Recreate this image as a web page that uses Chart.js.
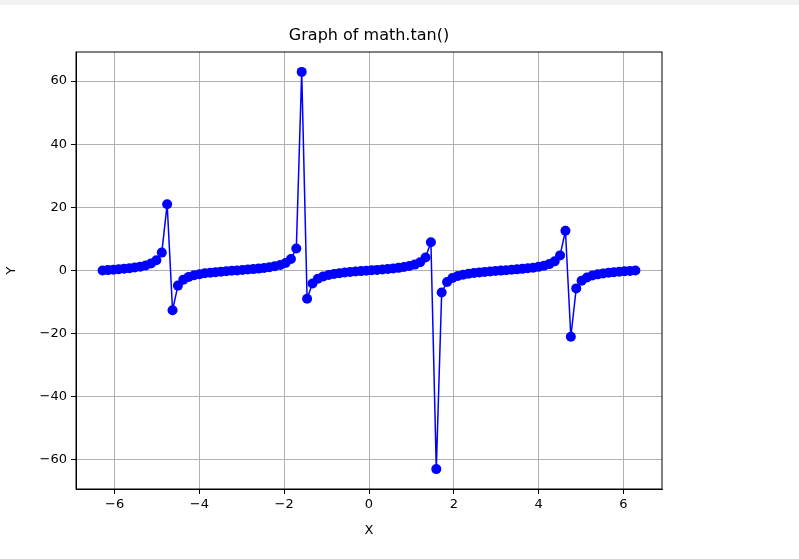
<!DOCTYPE html>
<html>
<head>
<meta charset="utf-8">
<script src="https://cdn.jsdelivr.net/npm/chart.js@4/dist/chart.umd.min.js"></script>
<style>
  html, body { margin: 0; padding: 0; background: #fff; }
  #strip { height: 5px; background: #f2f2f2; }
</style>
</head>
<body>
<div id="strip"></div>
<canvas id="tanChart" width="799" height="554"></canvas>
<script>
// x samples and tan(x) values
var xValues = [
    -6.283, -6.156, -6.029, -5.902, -5.776, -5.648, -5.522, -5.395, -5.268, -5.141,
    -5.014, -4.887, -4.760, -4.633, -4.506, -4.379, -4.252, -4.125, -3.998, -3.871,
    -3.745, -3.618, -3.491, -3.364, -3.237, -3.110, -2.983, -2.856, -2.729, -2.602,
    -2.475, -2.348, -2.221, -2.094, -1.968, -1.841, -1.714, -1.587, -1.460, -1.333,
    -1.206, -1.079, -0.952, -0.825, -0.698, -0.571, -0.444, -0.317, -0.190, -0.063,
    0.063, 0.190, 0.317, 0.444, 0.571, 0.698, 0.825, 0.952, 1.079, 1.206,
    1.333, 1.460, 1.587, 1.714, 1.841, 1.968, 2.094, 2.221, 2.348, 2.475,
    2.602, 2.729, 2.856, 2.983, 3.110, 3.237, 3.364, 3.491, 3.618, 3.745,
    3.871, 3.998, 4.125, 4.252, 4.379, 4.506, 4.633, 4.760, 4.887, 5.014,
    5.141, 5.268, 5.395, 5.522, 5.648, 5.776, 5.902, 6.029, 6.156, 6.283
];
var yValues = [
    0, 0.128, 0.260, 0.400, 0.557, 0.737, 0.952, 1.223, 1.61, 2.19,
    3.22, 5.67, 21.0, -12.6, -4.78, -2.89, -2.02, -1.50, -1.154, -0.894,
    -0.691, -0.516, -0.364, -0.226, -0.096, 0.032, 0.160, 0.294, 0.437, 0.599,
    0.787, 1.017, 1.318, 1.732, 2.39, 3.62, 6.95, 62.9, -8.97, -4.12,
    -2.62, -1.865, -1.405, -1.081, -0.839, -0.642, -0.476, -0.329, -0.193, -0.064,
    0.064, 0.193, 0.329, 0.476, 0.642, 0.839, 1.081, 1.405, 1.865, 2.62,
    4.12, 8.97, -62.9, -6.95, -3.62, -2.39, -1.732, -1.318, -1.017, -0.787,
    -0.599, -0.437, -0.294, -0.160, -0.032, 0.096, 0.226, 0.364, 0.516, 0.691,
    0.894, 1.154, 1.50, 2.02, 2.89, 4.78, 12.6, -21.0, -5.67, -3.22,
    -2.19, -1.61, -1.223, -0.952, -0.737, -0.557, -0.400, -0.260, -0.128, 0
];
var xTicks = [-6, -4, -2, 0, 2, 4, 6];
var yTicks = [-60, -40, -20, 0, 20, 40, 60];

var points = xValues.map(function(x, i) {
    return {x: x, y: yValues[i]};
});

function minus(v) {
    return String(v).replace('-', '\u2212');
}

// title above the plot and the closed frame around it
var framePlugin = {
    id: 'frame',
    afterDraw: function(chart) {
        var ctx = chart.ctx;
        var area = chart.chartArea;
        ctx.save();
        ctx.strokeStyle = '#000';
        ctx.lineWidth = 1;
        ctx.strokeRect(area.left, area.top, area.right - area.left, area.bottom - area.top);
        ctx.fillStyle = '#000';
        ctx.font = '16px "DejaVu Sans"';
        ctx.textAlign = 'center';
        ctx.textBaseline = 'bottom';
        ctx.fillText('Graph of math.tan()', (area.left + area.right) / 2, area.top - 8);
        ctx.restore();
    }
};

var fontSpec = {family: '"DejaVu Sans"', size: 13};

new Chart(document.getElementById('tanChart').getContext('2d'), {
    type: 'scatter',
    data: {
        datasets: [{
            data: points,
            showLine: true,
            borderColor: '#0000ff',
            backgroundColor: '#0000ff',
            borderWidth: 1.5,
            pointRadius: 5,
            pointBorderWidth: 0
        }]
    },
    options: {
        responsive: false,
        animation: false,
        layout: {padding: {left: 0, right: 137, top: 47, bottom: 17}},
        plugins: {legend: {display: false}, tooltip: {enabled: false}},
        scales: {
            x: {
                type: 'linear',
                min: -6.91,
                max: 6.91,
                afterBuildTicks: function(scale) {
                    scale.ticks = xTicks.map(function(v) { return {value: v}; });
                },
                afterFit: function(scale) { scale.height = 53; },
                ticks: {color: '#000', font: fontSpec, padding: 3, maxRotation: 0,
                    callback: function(v) { return minus(v); }},
                grid: {color: '#b0b0b0', tickColor: '#000', tickLength: 5},
                border: {color: '#000'},
                title: {display: true, text: 'X', color: '#000', font: fontSpec, padding: {top: 2}}
            },
            y: {
                type: 'linear',
                min: -69.2,
                max: 69.2,
                afterBuildTicks: function(scale) {
                    scale.ticks = yTicks.map(function(v) { return {value: v}; });
                },
                afterFit: function(scale) { scale.width = 76; },
                ticks: {color: '#000', font: fontSpec, padding: 4,
                    callback: function(v) { return minus(v); }},
                grid: {color: '#b0b0b0', tickColor: '#000', tickLength: 5},
                border: {color: '#000'},
                title: {display: true, text: 'Y', color: '#000', font: fontSpec, padding: {bottom: 4}}
            }
        }
    },
    plugins: [framePlugin]
});
</script>
</body>
</html>
